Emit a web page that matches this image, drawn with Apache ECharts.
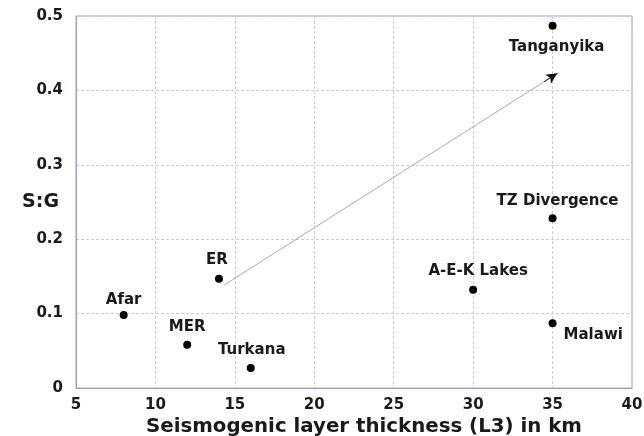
<!DOCTYPE html>
<html><head><meta charset="utf-8">
<script src="https://cdn.jsdelivr.net/npm/echarts@6/dist/echarts.min.js"></script>
<style>html,body{margin:0;padding:0;background:#fff}#c{width:644px;height:436px}</style>
</head><body><div id="c"></div>
<script>
var names = ['Afar','MER','Turkana','ER','A-E-K Lakes','TZ Divergence','Malawi','Tanganyika'];
var xVals = [8, 12, 16, 14, 30, 35, 35, 35];
var yVals = [0.098, 0.058, 0.027, 0.147, 0.132, 0.228, 0.087, 0.487];
var labelPos = ['top','top','top','top','top','top','right','bottom'];
var labelOff = [[0,2],[0,-1],[1,-1],[-2,-2],[5,-2],[5,-1],[2,12],[4,5]];
var arrowStart = [14.3, 0.138];
var arrowEnd = [35.3, 0.423];
var xTicks = [5,10,15,20,25,30,35,40];
var yTicks = [0,0.1,0.2,0.3,0.4,0.5];

var FONT = 'DejaVu Sans';
var data = names.map(function(n,i){
  return {name:n, value:[xVals[i], yVals[i]],
    label:{show:true, position:labelPos[i], offset:labelOff[i], formatter:n}};
});
// short piece at the arrow's end, drawn in black so the head is dark
var headFrac = 0.04;
var headStart = [arrowEnd[0] - (arrowEnd[0]-arrowStart[0])*headFrac, arrowEnd[1] - (arrowEnd[1]-arrowStart[1])*headFrac];
var gridCol = '#c9c9f2';
var axisCol = '#9d9de6';
var chart = echarts.init(document.getElementById('c'));
chart.setOption({
  animation:false,
  grid:{left:76, right:12, top:16, bottom:48, show:true, borderColor:axisCol, borderWidth:1, containLabel:false, outerBoundsMode:'none'},
  xAxis:{type:'value', min:5, max:40, interval:5,
    name:'Seismogenic layer thickness (L3) in km', nameLocation:'middle', nameGap:29, nameMoveOverlap:false,
    nameTextStyle:{fontFamily:FONT, fontWeight:'bold', fontSize:19.8, color:'#1a1a1a', padding:[0,0,0,20]},
    axisLine:{show:true, lineStyle:{color:axisCol}}, axisTick:{show:false},
    axisLabel:{fontFamily:FONT, fontWeight:'bold', fontSize:15, color:'#1a1a1a', margin:10,
      formatter:function(v){return String(v);}},
    splitLine:{show:true, lineStyle:{color:gridCol, type:[3,2]}}},
  yAxis:{type:'value', min:0, max:0.5, interval:0.1,
    name:'S:G', nameLocation:'middle', nameRotate:0, nameGap:17, nameMoveOverlap:false,
    nameTextStyle:{fontFamily:FONT, fontWeight:'bold', fontSize:19, color:'#1a1a1a', align:'right', verticalAlign:'middle', padding:[8,0,0,0]},
    axisLine:{show:true, lineStyle:{color:axisCol}}, axisTick:{show:false},
    axisLabel:{fontFamily:FONT, fontWeight:'bold', fontSize:15, color:'#1a1a1a', margin:13,
      formatter:function(v){return v===0?'0':String(Math.round(v*10)/10);}},
    splitLine:{show:true, lineStyle:{color:gridCol, type:[3,2]}}},
  series:[{
    type:'scatter', symbolSize:8, itemStyle:{color:'#000', opacity:1},
    label:{fontFamily:FONT, fontWeight:'bold', fontSize:15, color:'#1a1a1a', distance:5},
    data:data,
    markLine:{silent:true, symbol:['none','arrow'], symbolSize:[8,11],
      lineStyle:{color:'#aaa', width:1, type:'solid'},
      label:{show:false},
      data:[
        [{coord:arrowStart, symbol:'none'},{coord:arrowEnd, symbol:'none'}],
        [{coord:headStart, symbol:'none', lineStyle:{color:'#111'}},{coord:arrowEnd, symbol:'arrow', lineStyle:{color:'#111'}}]
      ]}
  }]
});
</script></body></html>
